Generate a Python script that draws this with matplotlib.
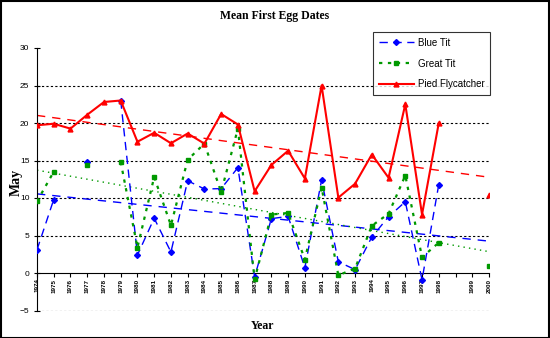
"""Mean first egg dates chart."""
import matplotlib.pyplot as plt
import numpy as np

nan = np.nan

years = [str(y) for y in range(1974, 1999)] + ["", "1999", "2000"]

blue_tit = [3.1, 9.8, nan, 14.8, nan, 23.0, 2.4, 7.3, 2.8, 12.3, 11.2, 11.25,
            14.05, -0.5, 7.25, 7.55, 0.7, 12.4, 1.5, 0.45, 4.8, 7.5, 9.5, -0.9,
            11.8, nan, nan, nan]
great_tit = [9.55, 13.5, nan, 14.4, nan, 14.8, 3.4, 12.8, 6.35, 15.1, 17.25,
             10.8, 19.25, -0.85, 7.8, 8.0, 1.8, 11.4, -0.3, 0.6, 6.3, 7.9, 13.0,
             2.1, 4.05, nan, nan, 0.9]
pied_flycatcher = [19.7, 19.9, 19.25, 21.1, 22.8, 23.0, 17.5, 18.7, 17.3, 18.6,
                   17.25, 21.2, 19.8, 10.9, 14.4, 16.3, 12.6, 25.0, 10.05, 11.9,
                   15.8, 12.7, 22.5, 7.8, 20.0, nan, nan, 10.4]

serif = ["Liberation Serif", "DejaVu Serif"]
sans = ["Liberation Sans", "DejaVu Sans"]


def trend(ax, x, y, color, ls):
    """Linear trendline like Excel, over category index."""
    y = np.asarray(y)
    ok = ~np.isnan(y)
    k, b = np.polyfit(x[ok], y[ok], 1)
    ax.plot(x, k * x + b, color=color, ls=ls, lw=1.0, zorder=2)


fig = plt.figure(figsize=(5.5, 3.38), dpi=100)
ax = fig.add_axes([37 / 550, 1 - 310.5 / 338, 452 / 550, 262.5 / 338])
ax.spines["top"].set_visible(False)
ax.spines["right"].set_visible(False)
ax.spines["bottom"].set_position(("data", 0))

x = np.arange(len(years))

for v in [-5, 5, 10, 15, 20, 25]:
    ax.axhline(v, color="black", lw=0.8, ls=(0, (2, 2)), zorder=1)

ax.plot(x, blue_tit, color="#0000ff", ls=(0, (6, 4)), lw=1.0, marker="D",
        ms=3, label="Blue Tit", zorder=3)
ax.plot(x, great_tit, color="#009900", ls=(0, (1.5, 2.5)), lw=1.6, marker="s",
        ms=3.5, label="Great Tit", zorder=3)
ax.plot(x, pied_flycatcher, color="#ff0000", ls="-", lw=1.5, marker="^",
        ms=3.5, label="Pied Flycatcher", zorder=4)

trend(ax, x, blue_tit, "#0000ff", (0, (6, 5)))
trend(ax, x, great_tit, "#009900", (0, (1, 3)))
trend(ax, x, pied_flycatcher, "#ff0000", (0, (6, 5)))

ax.set_xlim(0, len(years) - 1)
ax.set_ylim(-5, 30)
ax.set_yticks(range(-5, 31, 5))
ax.set_xticks(x)
ax.set_xticklabels(years, rotation=90, fontsize=4.5, family=sans,
                   fontweight="bold")
for t in ax.get_yticklabels():
    t.set_family(sans)
    t.set_fontsize(6)

ax.tick_params(axis="x", direction="out", length=3, width=0.8, pad=1)
ax.tick_params(axis="y", direction="inout", length=5, width=0.8, pad=3)

fig.text(16 / 550, 1 - 182 / 338, "May", family=serif, fontweight="bold",
         fontsize=10, rotation=90, ha="center", va="center")
fig.text(263 / 550, 1 - 326 / 338, "Year", family=serif, fontweight="bold",
         fontsize=8.5, ha="center", va="center")
fig.text(275 / 550, 1 - 16 / 338, "Mean First Egg Dates", family=serif,
         fontweight="bold", fontsize=8.5, ha="center", va="center")

leg = ax.legend(loc="upper left", bbox_to_anchor=(373 / 550, 1 - 32 / 338),
                bbox_transform=fig.transFigure, prop={"family": sans, "size": 7},
                frameon=True, fancybox=False, numpoints=1, handlelength=3.6,
                labelspacing=1.1, borderpad=0.6, handletextpad=0.4,
                borderaxespad=0)
leg.get_frame().set_edgecolor("black")
leg.get_frame().set_linewidth(0.8)

border = plt.Rectangle((0.001, 0.001), 0.997, 0.997, transform=fig.transFigure,
                       fill=False, edgecolor="black", lw=1.5)
fig.patches.append(border)

fig.savefig("out.png", dpi=100)
